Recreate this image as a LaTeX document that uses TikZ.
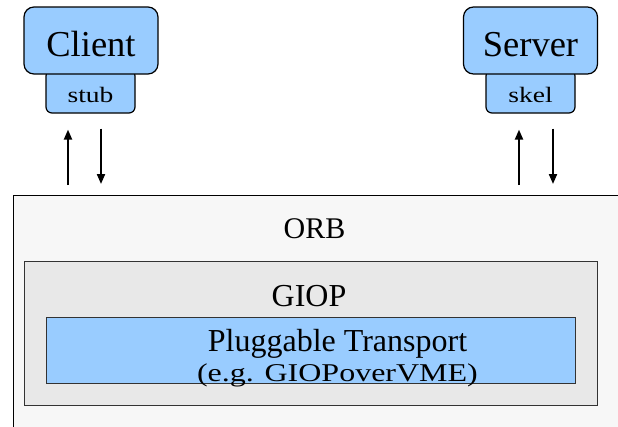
\documentclass[tikz,border=0pt]{standalone}
\usepackage{fontspec}
\setmainfont{Liberation Serif}
\usepackage{tikz}
\usetikzlibrary{arrows.meta,positioning}

\definecolor{boxblue}{HTML}{99CCFF}
\definecolor{orbgray}{HTML}{F7F7F7}
\definecolor{giopgray}{HTML}{E8E8E8}
\definecolor{edgegray}{HTML}{333333}

\tikzset{
  app/.style={draw=black, fill=boxblue, line width=1.2pt, rounded corners=10pt,
    minimum width=134pt, minimum height=67pt, inner sep=0pt,
    text height=31pt, text depth=0pt, font=\fontsize{36.5}{40}\selectfont},
  proxy/.style={draw=black, fill=boxblue, line width=1.2pt, rounded corners=6pt,
    minimum width=89pt, minimum height=43pt, inner sep=0pt,
    text height=21pt, text depth=0pt, font=\fontsize{22}{24}\selectfont},
  layer/.style={draw=edgegray, line width=1pt, inner sep=0pt, anchor=north west},
  flow/.style={line width=2pt, -{Triangle[length=10pt,width=8pt]}}
}

\begin{document}
\begin{tikzpicture}[x=1pt,y=-1pt]
\useasboundingbox (0,0) rectangle (618,426);
\clip (0,0) rectangle (618,426);

% ORB layers
\node[layer, draw=none, fill=orbgray, minimum width=660pt, minimum height=260pt] (orb) at (13,195) {};
\draw[line width=1pt] (orb.south west) -- (orb.north west) -- (orb.north east);
\node[font=\fontsize{30}{32}\selectfont] (orblabel) at (314.5,229) {ORB};
\node[layer, fill=giopgray, minimum width=573pt, minimum height=144pt] (giop) at (24,261) {};
\node[font=\fontsize{32}{34}\selectfont] (gioplabel) at (309,296) {GIOP};
\node[layer, fill=boxblue, minimum width=529pt, minimum height=66pt] (transport) at (46,317) {};
\node[align=center, inner sep=0pt, font=\fontsize{32}{30}\selectfont] (transportlabel)
  at (337.5,358) {Pluggable Transport\\\scalebox{1}[0.8]{(e.g. GIOPoverVME)}};

% client side
\node[proxy] (stub) at (90.5,91.5) {\scalebox{1.25}[1]{stub}};
\node[app] (client) at (91,40.5) {Client};

% server side
\node[proxy] (skel) at (530.5,91.5) {\scalebox{1.25}[1]{skel}};
\node[app] (server) at (530.5,40.5) {Server};

% calls
\coordinate (cup) at ([xshift=-22.5pt]stub.south);
\coordinate (cdown) at ([xshift=10.5pt]stub.south);
\coordinate (sup) at ([xshift=-11.5pt]skel.south);
\coordinate (sdown) at ([xshift=22.5pt]skel.south);
\draw[flow, shorten <=10pt, shorten >=16pt] (cup |- orb.north) -- (cup);
\draw[flow, shorten <=15pt, shorten >=11pt] (cdown) -- (cdown |- orb.north);
\draw[flow, shorten <=10pt, shorten >=16pt] (sup |- orb.north) -- (sup);
\draw[flow, shorten <=15pt, shorten >=11pt] (sdown) -- (sdown |- orb.north);
\end{tikzpicture}
\end{document}
